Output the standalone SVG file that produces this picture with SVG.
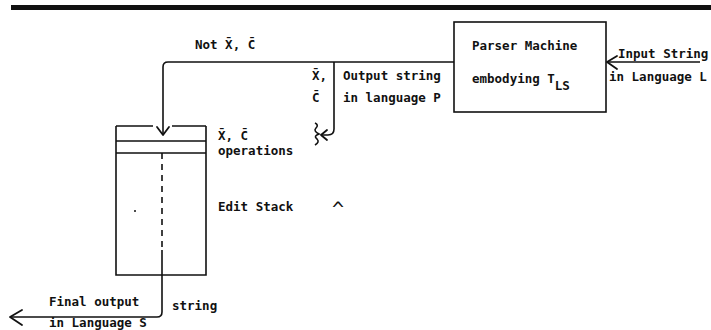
<svg xmlns="http://www.w3.org/2000/svg" width="711" height="330" viewBox="0 0 711 330">
<style>
.t{font-family:"DejaVu Sans Mono","Liberation Mono",monospace;font-weight:bold;font-size:12.5px;fill:#111}
.ln{fill:none;stroke:#111;stroke-width:1.6}
.ah{fill:none;stroke:#111;stroke-width:1.8;stroke-linecap:round;stroke-linejoin:round}
</style>
<rect width="711" height="330" fill="#fff"/>
<rect x="11" y="5" width="700" height="5" fill="#111"/>

<g id="parser">
<rect class="ln" x="454" y="22" width="152" height="90"/>
<text class="t" x="472" y="50">Parser Machine</text>
<text class="t" x="472" y="83">embodying T<tspan dy="7">LS</tspan></text>
</g>

<g id="stack">
<path class="ln" d="M116,126 V275 H206 V126 M116,126 H153 M172,126 H206 M116,141 H206 M116,153 H206"/>
<circle cx="135" cy="211" r="1" fill="#111"/>
<text class="t" x="218" y="140">X̄, C̄</text>
<text class="t" x="218" y="155">operations</text>
<text class="t" x="218" y="211">Edit Stack</text>
</g>

<g id="connectors">
<path class="ln" d="M454,62 H168 Q163,62 163,67 V134"/>
<path class="ah" d="M157,127 L163,135 L169,127"/>
<path class="ln" d="M334,62 V129 Q334,135 328,135 H322"/>
<path class="ah" d="M327,130 L321,135 L327,140"/>
<path class="ln" d="M315,123 q4,2 1,5 q-3,3 3,6 q-6,2 -2,5 q3,3 -2,6"/>
<path class="ln" d="M700,62 H608"/>
<path class="ah" d="M617,56 L607,62 L617,69"/>
<path class="ln" d="M162,153 V250" stroke-dasharray="6,5"/>
<path class="ln" d="M162,250 V312 Q162,317 157,317 H11"/>
<path class="ah" d="M22,310 L10,317 L22,325"/>
</g>

<g id="labels">
<text class="t" x="195" y="49">Not X̄, C̄</text>
<text class="t" x="312" y="80">X̄,</text>
<text class="t" x="312" y="102">C̄</text>
<text class="t" x="343" y="80">Output string</text>
<text class="t" x="343" y="102">in language P</text>
<text class="t" x="618" y="58">Input String</text>
<text class="t" x="609" y="81">in Language L</text>
<text class="t" x="332" y="216" style="font-size:20px;font-weight:normal">^</text>
<text class="t" x="49" y="306">Final output</text>
<text class="t" x="172" y="310">string</text>
<text class="t" x="49" y="327">in Language S</text>
</g>
</svg>
